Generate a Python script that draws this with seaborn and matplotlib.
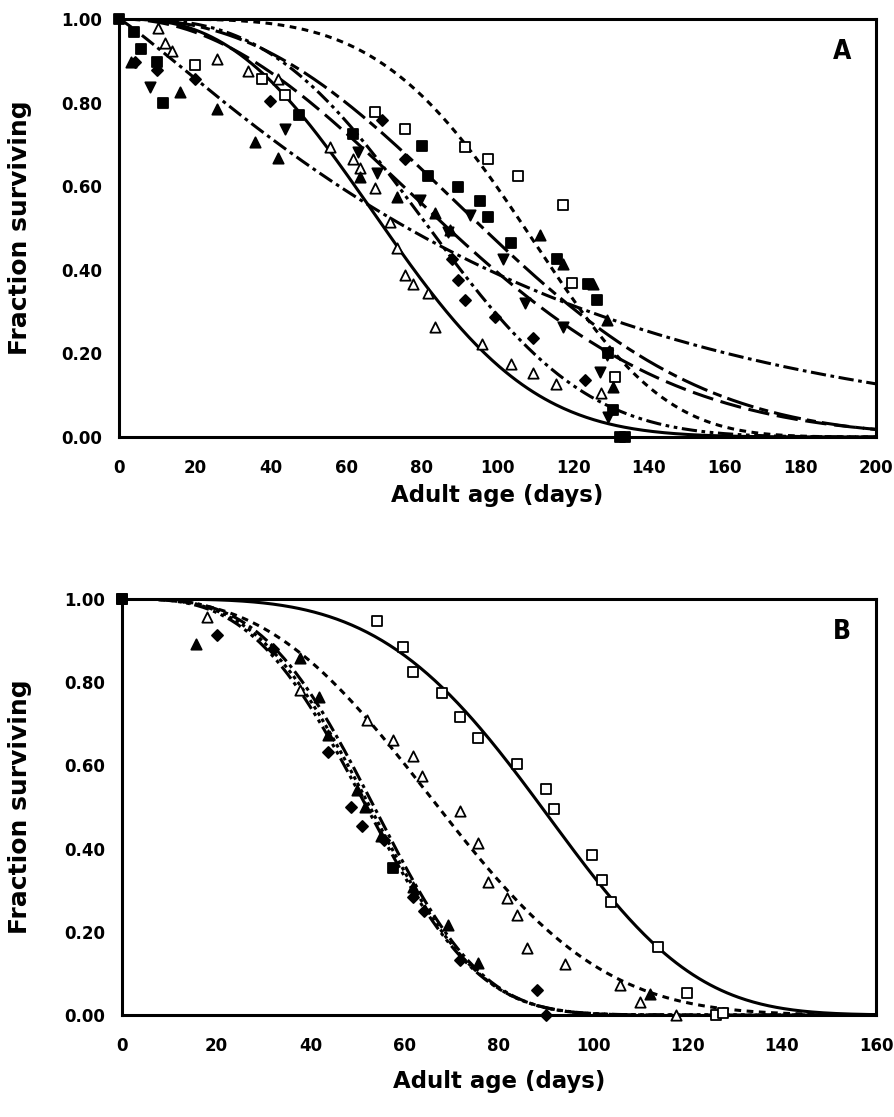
import numpy as np
import pandas as pd
import matplotlib
matplotlib.use("Agg")
import matplotlib.pyplot as plt
import seaborn as sns

sns.set_theme(style="white")
plt.rcParams['font.family'] = ['DejaVu Sans']
plt.rcParams['font.weight'] = 'bold'
plt.rcParams['text.color'] = 'black'
plt.rcParams['axes.labelcolor'] = 'black'

# ---------------- Panel A data ----------------
A_open_sq_x = [20.1, 37.7, 43.9, 67.6, 75.6, 91.4, 97.6, 105.5, 117.4, 119.6, 131.0]
A_open_sq_y = [0.889, 0.857, 0.817, 0.778, 0.736, 0.694, 0.665, 0.624, 0.555, 0.368, 0.144]

A_open_tri_x = [10.2, 12.2, 14.1, 25.8, 34.2, 42.1, 55.7, 61.9, 63.7, 67.6, 71.6, 73.4, 75.6,
                77.6, 81.7, 83.5, 95.8, 103.5, 109.5, 115.5, 127.3]
A_open_tri_y = [0.978, 0.943, 0.923, 0.905, 0.875, 0.857, 0.694, 0.664, 0.643, 0.595, 0.515,
                0.451, 0.388, 0.366, 0.344, 0.264, 0.222, 0.175, 0.152, 0.127, 0.105]

A_fill_sq_x = [0.0, 4.0, 5.8, 10.0, 11.7, 47.6, 61.7, 80.0, 81.7, 89.6, 95.4, 97.6, 103.5,
               115.6, 124.0, 126.4, 129.3, 130.6, 132.4, 133.6]
A_fill_sq_y = [1.0, 0.969, 0.929, 0.897, 0.798, 0.770, 0.726, 0.696, 0.624, 0.597, 0.565,
               0.526, 0.463, 0.425, 0.366, 0.327, 0.200, 0.065, 0.0, 0.0]

A_diam_x = [4.2, 10.0, 20.1, 39.9, 69.4, 75.6, 87.9, 89.6, 91.4, 99.3, 109.5, 123.1]
A_diam_y = [0.897, 0.877, 0.857, 0.805, 0.758, 0.666, 0.427, 0.376, 0.328, 0.288, 0.236, 0.136]

A_tri_x = [3.2, 16.1, 25.8, 35.9, 42.1, 63.7, 73.4, 83.5, 87.5, 111.2, 117.4, 125.3, 128.8, 130.6]
A_tri_y = [0.897, 0.825, 0.785, 0.706, 0.667, 0.623, 0.573, 0.535, 0.495, 0.483, 0.415,
           0.367, 0.280, 0.120]

A_inv_x = [8.2, 43.9, 63.2, 68.1, 79.5, 87.0, 92.7, 101.5, 107.3, 117.4, 127.0, 128.8, 129.3]
A_inv_y = [0.837, 0.738, 0.682, 0.631, 0.567, 0.490, 0.531, 0.427, 0.320, 0.264, 0.156,
           0.196, 0.049]

# Fitted survival curves, panel A (Weibull scale, shape)
A_curve_names = ["c1", "c2", "c3", "c4", "c5", "c6"]
A_curve_scale = [117.0, 80.6, 105.4, 93.0, 103.4, 112.0]
A_curve_shape = [4.2, 2.62, 1.13, 2.9, 2.1, 2.4]

# ---------------- Panel B data ----------------
B_open_sq_x = [0.0, 54.1, 59.7, 61.8, 67.8, 71.7, 75.6, 83.8, 89.9, 91.7, 99.7, 101.8, 103.8,
               113.8, 119.8, 126.0, 127.5]
B_open_sq_y = [1.0, 0.947, 0.885, 0.825, 0.775, 0.716, 0.665, 0.603, 0.543, 0.494, 0.385,
               0.325, 0.272, 0.164, 0.054, 0.0, 0.005]

B_open_tri_x = [18.0, 37.8, 51.9, 57.6, 61.8, 63.6, 71.7, 75.6, 77.7, 81.8, 83.8, 85.9, 93.9,
                105.7, 109.9, 117.6]
B_open_tri_y = [0.956, 0.781, 0.709, 0.661, 0.623, 0.575, 0.491, 0.413, 0.320, 0.282, 0.240,
                0.160, 0.123, 0.072, 0.032, 0.0]

B_tri_x = [15.8, 37.8, 41.7, 43.8, 49.8, 51.5, 55.0, 61.8, 69.2, 75.6, 112.0]
B_tri_y = [0.893, 0.857, 0.765, 0.673, 0.541, 0.500, 0.430, 0.308, 0.216, 0.124, 0.050]

B_diam_x = [20.1, 32.0, 43.8, 48.5, 51.0, 55.5, 61.8, 64.0, 71.7, 88.0, 90.0]
B_diam_y = [0.913, 0.880, 0.633, 0.500, 0.455, 0.420, 0.284, 0.250, 0.132, 0.060, 0.0]

B_fill_sq_x = [0.0, 57.6]
B_fill_sq_y = [1.0, 0.353]

B_curve_names = ["b1", "b2", "b3", "b4", "b5"]
B_curve_scale = [97.7, 76.5, 58.8, 59.6, 58.2]
B_curve_shape = [3.94, 2.8, 3.3, 3.4, 3.2]

# ---------------- styles ----------------
A_dashes = {
    "c1": (2.2, 1.8),
    "c2": "",
    "c3": (5, 1.5, 1.2, 1.5),
    "c4": (5, 1.5, 1.2, 1.5, 1.2, 1.5),
    "c5": (7, 2.5),
    "c6": (9, 2, 3, 2),
}
B_dashes = {
    "b1": "",
    "b2": (2.2, 1.8),
    "b3": (1.2, 1.2),
    "b4": (5, 1.5, 1.2, 1.5),
    "b5": (5, 1.5, 1.2, 1.5, 1.2, 1.5),
}


def curves_frame(names, scales, shapes, tmax):
    rows = []
    t = np.linspace(0, tmax, 401)
    for n, lam, k in zip(names, scales, shapes):
        s = np.exp(-(t / lam) ** k)
        rows.append(pd.DataFrame({"age": t, "surv": s, "curve": n}))
    return pd.concat(rows, ignore_index=True)


fig = plt.figure(figsize=(8.94, 11.17), dpi=100)
axA = fig.add_axes([119 / 894, 1 - 437 / 1117, (876 - 119) / 894, (437 - 19) / 1117])
axB = fig.add_axes([122 / 894, 1 - 1015 / 1117, (876 - 122) / 894, (1015 - 599) / 1117])


def pts(ax, x, y, marker, filled, size):
    df = pd.DataFrame({"x": x, "y": y})
    sns.scatterplot(data=df, x="x", y="y", ax=ax, marker=marker, s=size,
                    facecolor="black" if filled else "white", edgecolor="black",
                    linewidth=1.3, zorder=4, clip_on=False, legend=False)


dfA = curves_frame(A_curve_names, A_curve_scale, A_curve_shape, 200)
sns.lineplot(data=dfA, x="age", y="surv", style="curve", dashes=A_dashes, color="black",
             linewidth=2.2, ax=axA, legend=False, zorder=3)
pts(axA, A_open_sq_x, A_open_sq_y, "s", False, 60)
pts(axA, A_open_tri_x, A_open_tri_y, "^", False, 55)
pts(axA, A_fill_sq_x, A_fill_sq_y, "s", True, 60)
pts(axA, A_diam_x, A_diam_y, "D", True, 32)
pts(axA, A_tri_x, A_tri_y, "^", True, 55)
pts(axA, A_inv_x, A_inv_y, "v", True, 55)

dfB = curves_frame(B_curve_names, B_curve_scale, B_curve_shape, 160)
sns.lineplot(data=dfB, x="age", y="surv", style="curve", dashes=B_dashes, color="black",
             linewidth=2.2, ax=axB, legend=False, zorder=3)
pts(axB, B_open_sq_x, B_open_sq_y, "s", False, 60)
pts(axB, B_open_tri_x, B_open_tri_y, "^", False, 55)
pts(axB, B_tri_x, B_tri_y, "^", True, 55)
pts(axB, B_diam_x, B_diam_y, "D", True, 32)
pts(axB, B_fill_sq_x, B_fill_sq_y, "s", True, 60)

layout = [
    (axA, 200, "A", 119, 757, 437, 418, 484),
    (axB, 160, "B", 122, 754, 1015, 416, 1070),
]
for ax, xmax, letter, x0, w, y0, h, xl_top in layout:
    ax.set_xlim(0, xmax)
    ax.set_ylim(0, 1.0)
    ax.set_xticks(np.arange(0, xmax + 1, 20))
    ax.set_yticks(np.arange(0, 1.01, 0.2))
    ax.set_yticklabels([f"{v:.2f}" for v in np.arange(0, 1.01, 0.2)])
    ax.tick_params(direction="in", length=7, width=1.8, labelsize=12, colors="black")
    ax.tick_params(axis="x", pad=16)
    ax.tick_params(axis="y", pad=12)
    for lab in ax.get_xticklabels() + ax.get_yticklabels():
        lab.set_fontweight("bold")
    for sp in ax.spines.values():
        sp.set_linewidth(2.2)
        sp.set_color("black")
    ax.set_xlabel("Adult age (days)", fontsize=16.5, fontweight="bold", color="black")
    ax.set_ylabel("Fraction surviving", fontsize=18, fontweight="bold", color="black")
    ax.xaxis.set_label_coords(0.5, (y0 - xl_top) / h)
    ax.yaxis.set_label_coords((32 - x0) / w, 0.5)
    ax.text(0.955, 0.92, letter, transform=ax.transAxes, fontsize=19, fontweight="bold",
            ha="center", va="center", fontstretch="condensed", color="black")
    ax.grid(False)

fig.savefig("out.png", dpi=100, facecolor="white")
